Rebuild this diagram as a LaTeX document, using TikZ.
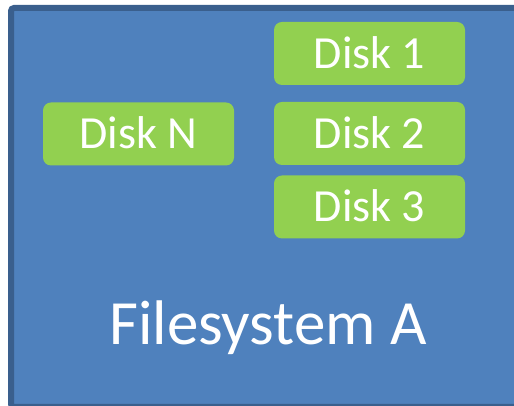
\documentclass[tikz,border=0pt]{standalone}
\usepackage{fontspec}
\setmainfont{Carlito}
\definecolor{fsblue}{HTML}{4F81BD}
\definecolor{fsborder}{HTML}{3A5F8D}
\definecolor{diskgreen}{HTML}{92D050}
\begin{document}
\begin{tikzpicture}[x=1pt,y=1pt,
  disk/.style={fill=diskgreen, draw=none, rounded corners=8pt,
    minimum width=191pt, minimum height=63pt, inner sep=0pt,
    text=white, font=\fontsize{46}{52}\selectfont,
    text height=29.5pt, text depth=0pt},
  fslabel/.style={text=white, font=\fontsize{63}{70}\selectfont, inner sep=0pt, anchor=base}]
\useasboundingbox (0,0) rectangle (514,406);
\clip (0,0) rectangle (514,406);
% filesystem container, running off the right and bottom edges
\draw[fill=fsblue, draw=fsborder, line width=6pt, rounded corners=3pt]
  (11,398) rectangle (540,-1);
% disks
\node[disk] (d1) at (369.5,352.5) {Disk 1};
\node[disk] (d2) at (369.5,272.5) {Disk 2};
\node[disk] (d3) at (369.5,199) {Disk 3};
\node[disk] (dn) at (138.5,272) {Disk N};
\node[fslabel] (fs) at (268,61) {Filesystem A};
\end{tikzpicture}
\end{document}
